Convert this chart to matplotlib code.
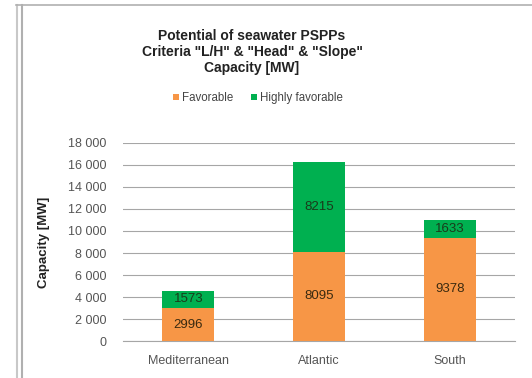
import matplotlib
matplotlib.use("Agg")
import matplotlib.pyplot as plt
from matplotlib.lines import Line2D
from matplotlib.ticker import FuncFormatter
import numpy as np

plt.rcParams['font.family'] = ['Liberation Sans', 'DejaVu Sans']

categories = ["Mediterranean", "Atlantic", "South"]
favorable = [2996, 8095, 9378]
highly_favorable = [1573, 8215, 1633]
series_names = ["Favorable", "Highly favorable"]
title = 'Potential of seawater PSPPs\nCriteria "L/H" & "Head" & "Slope"\nCapacity [MW]'
ylabel = "Capacity [MW]"

c_fav = "#F79646"
c_high = "#00B050"

W, H = 532, 378
fig = plt.figure(figsize=(W / 100, H / 100), dpi=100)
ax = fig.add_axes([123 / W, 1 - 341 / H, (515 - 123) / W, (341 - 143) / H])

x = np.arange(len(categories))
b1 = ax.bar(x, favorable, width=0.4, color=c_fav, label=series_names[0], zorder=3)
b2 = ax.bar(x, highly_favorable, width=0.4, bottom=favorable, color=c_high,
            label=series_names[1], zorder=3)

for i in range(len(categories)):
    ax.text(x[i], favorable[i] / 2, str(favorable[i]), ha="center", va="center",
            fontsize=9.5, color="#3a2a10", zorder=4)
    ax.text(x[i], favorable[i] + highly_favorable[i] / 2, str(highly_favorable[i]),
            ha="center", va="center", fontsize=9.5, color="#1a3a1a", zorder=4)

ax.set_xlim(-0.5, len(categories) - 0.5)
ax.set_ylim(0, 18000)
ax.set_yticks(np.arange(0, 18001, 2000))
ax.yaxis.set_major_formatter(FuncFormatter(lambda v, p: f"{int(v):,}".replace(",", " ")))
ax.set_xticks(x)
ax.set_xticklabels(categories)
ax.tick_params(axis="both", labelsize=9, colors="#555555", length=0)
ax.tick_params(axis="y", pad=12)
ax.tick_params(axis="x", pad=10)
ax.grid(axis="y", color="#a6a6a6", linewidth=0.8, zorder=0)
for s in ["top", "right", "left"]:
    ax.spines[s].set_visible(False)
ax.spines["bottom"].set_color("#a6a6a6")
ax.set_ylabel(ylabel, fontsize=9.5, fontweight="bold", color="#222222")
ax.yaxis.set_label_coords((50 - 123) / (515 - 123), 0.5)

fig.text(252 / W, 1 - 52 / H, title, ha="center", va="center", fontsize=10,
         fontweight="bold", color="#222222", linespacing=1.2, multialignment="center")

leg = fig.legend(handles=[b1, b2], loc="center", bbox_to_anchor=(258 / W, 1 - 98 / H),
                 ncol=2, frameon=False, fontsize=8.3, handlelength=0.5, handleheight=0.5,
                 handletextpad=0.3, columnspacing=1.5)
for t in leg.get_texts():
    t.set_color("#444444")

# chart area border (left and top)
for xx, c in [(16.5, "#c8c8c8"), (22, "#b0b0b0")]:
    fig.add_artist(Line2D([xx / W, xx / W], [0, 1 - 5 / H], transform=fig.transFigure,
                          color=c, linewidth=1.5))
fig.add_artist(Line2D([16 / W, 1], [1 - 5 / H, 1 - 5 / H], transform=fig.transFigure,
                      color="#b0b0b0", linewidth=1.2))

fig.savefig("out.png", dpi=100)
